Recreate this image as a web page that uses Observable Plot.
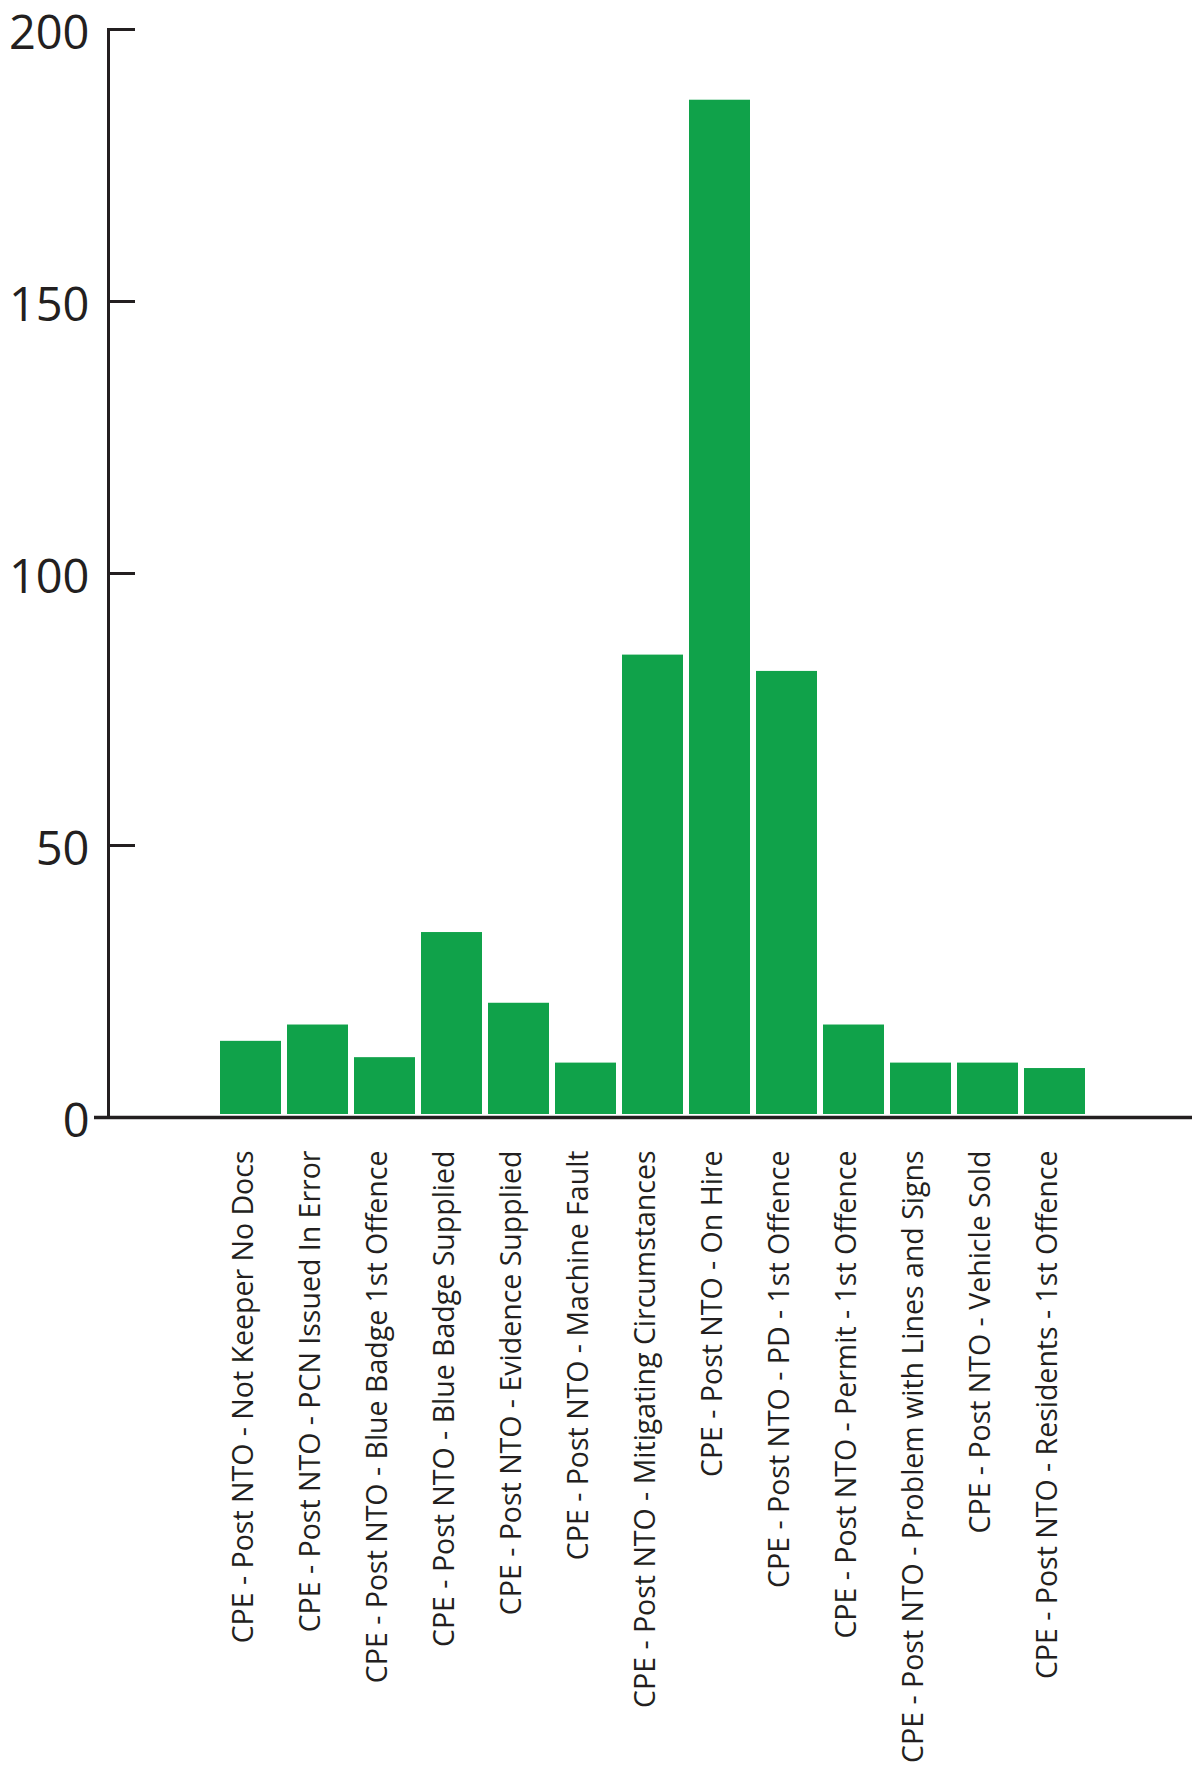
<!DOCTYPE html>
<html>
<head>
<meta charset="utf-8">
<script src="https://cdn.jsdelivr.net/npm/d3@7"></script>
<script src="https://cdn.jsdelivr.net/npm/@observablehq/plot@0.6"></script>
<style>
  html, body { margin: 0; padding: 0; background: #fff; }
  #chart { width: 1192px; height: 1771px; }
  svg { font-family: "Open Sans", sans-serif; overflow: visible; }
</style>
</head>
<body>
<div id="chart"></div>
<script>
const categories = [
  "CPE - Post NTO - Not Keeper No Docs",
  "CPE - Post NTO - PCN Issued In Error",
  "CPE - Post NTO - Blue Badge 1st Offence",
  "CPE - Post NTO - Blue Badge Supplied",
  "CPE - Post NTO - Evidence Supplied",
  "CPE - Post NTO - Machine Fault",
  "CPE - Post NTO - Mitigating Circumstances",
  "CPE - Post NTO - On Hire",
  "CPE - Post NTO - PD - 1st Offence",
  "CPE - Post NTO - Permit - 1st Offence",
  "CPE - Post NTO - Problem with Lines and Signs",
  "CPE - Post NTO - Vehicle Sold",
  "CPE - Post NTO - Residents - 1st Offence"
];
const values = [14, 17, 11, 34, 21, 10, 85, 187, 82, 17, 10, 10, 9];
const yTicks = [0, 50, 100, 150, 200];

const data = categories.map((c, i) => ({category: c, value: values[i]}));
const ink = "#231f20";

const chart = Plot.plot({
  width: 1192,
  height: 1771,
  marginLeft: 108,
  marginRight: 0,
  marginTop: 29,
  marginBottom: 654,
  style: {fontFamily: "'Open Sans', sans-serif", color: ink, background: "#fff", overflow: "visible"},
  x: {domain: categories, paddingInner: 0.09, paddingOuter: 1.634, align: 0.51},
  y: {domain: [0, 200]},
  marks: [
    Plot.barY(data, {x: "category", y: "value", fill: "#10a24a", insetBottom: 3}),
    Plot.axisY(yTicks, {tickSize: 0, tickPadding: 19, fontSize: 47, dy: 4, label: null, fill: ink}),
    Plot.axisY(yTicks, {tickSize: -27, text: null, label: null, stroke: ink, strokeWidth: 3}),
    Plot.frame({anchor: "left", stroke: ink, strokeWidth: 3}),
    Plot.ruleY([0], {stroke: ink, strokeWidth: 3.5, insetLeft: -14}),
    Plot.axisX({tickSize: 0, tickPadding: 33, tickRotate: -90, fontSize: 28.5, dx: -7, label: null, fill: ink})
  ]
});
document.getElementById("chart").appendChild(chart);
</script>
</body>
</html>
